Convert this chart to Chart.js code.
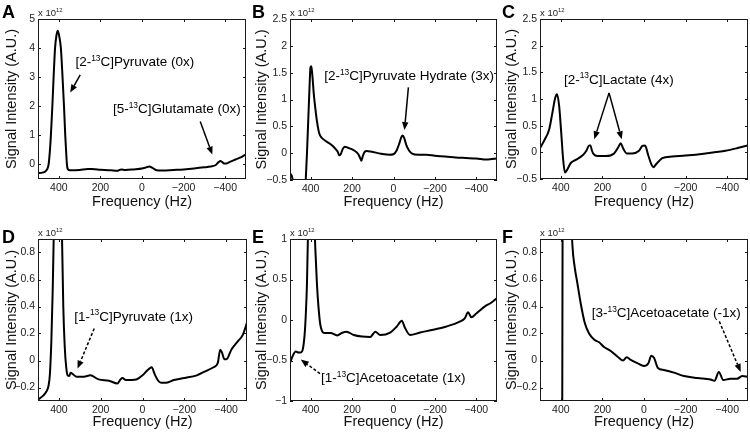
<!DOCTYPE html>
<html>
<head>
<meta charset="utf-8">
<script src="https://cdn.jsdelivr.net/npm/chart.js@4.4.1/dist/chart.umd.min.js"></script>
<style>
  body { margin: 0; background: #fff; width: 750px; height: 434px; position: relative; overflow: hidden; }
  .panel { position: absolute; width: 250px; height: 217px; }
</style>
</head>
<body>
<div class="panel" style="left:0;top:0"><canvas id="cA" width="250" height="217"></canvas></div>
<div class="panel" style="left:250px;top:0"><canvas id="cB" width="250" height="217"></canvas></div>
<div class="panel" style="left:500px;top:0"><canvas id="cC" width="250" height="217"></canvas></div>
<div class="panel" style="left:0;top:217px"><canvas id="cD" width="250" height="217"></canvas></div>
<div class="panel" style="left:250px;top:217px"><canvas id="cE" width="250" height="217"></canvas></div>
<div class="panel" style="left:500px;top:217px"><canvas id="cF" width="250" height="217"></canvas></div>
<script>
// ── Data (signal in units of 1e12, frequency in Hz) ─────────────────
const freqTicks = [400, 200, 0, -200, -400];

const freqA = [500, 480, 465, 455, 449, 443, 438, 431, 425, 418, 411, 405, 399, 390, 382, 375, 369, 364, 361, 356, 345, 300, 260, 240, 200, 150, 120, 100, 80, 40, 0, -20, -35, -50, -70, -100, -150, -200, -250, -300, -330, -355, -368, -377, -386, -395, -405, -420, -450, -480, -500];
const sigA  = [-0.30, -0.28, -0.24, -0.15, 0.0, 0.45, 1.0, 2.0, 3.0, 4.0, 4.45, 4.6, 4.45, 4.0, 3.0, 2.0, 1.0, 0.35, 0.0, -0.17, -0.2, -0.19, -0.16, -0.16, -0.18, -0.2, -0.22, -0.17, -0.19, -0.17, -0.14, -0.1, -0.07, -0.12, -0.2, -0.21, -0.19, -0.17, -0.14, -0.1, -0.07, -0.02, 0.08, 0.12, 0.08, 0.03, 0.03, 0.08, 0.17, 0.26, 0.35];

const freqB = [500, 492, 484, 470, 440, 428, 424, 418, 412, 406, 401, 397, 392, 385, 378, 370, 362, 355, 345, 325, 305, 285, 270, 262, 255, 245, 235, 220, 190, 170, 160, 155, 148, 140, 130, 110, 60, 20, 0, -15, -28, -38, -44, -52, -62, -75, -90, -120, -160, -200, -250, -300, -350, -400, -450, -475, -500];
const sigB  = [-0.38, -0.42, -0.55, -0.9, -1.2, -0.8, -0.5, 0.0, 0.6, 1.2, 1.6, 1.62, 1.45, 1.1, 0.85, 0.6, 0.42, 0.33, 0.28, 0.22, 0.17, 0.1, 0.03, -0.04, -0.02, 0.08, 0.12, 0.1, 0.05, -0.02, -0.1, -0.14, -0.05, 0.02, 0.04, 0.03, -0.01, -0.03, -0.02, 0.05, 0.18, 0.3, 0.33, 0.28, 0.15, 0.05, -0.01, -0.03, -0.03, -0.05, -0.06, -0.08, -0.09, -0.1, -0.12, -0.11, -0.1];

const freqC = [500, 480, 456, 440, 427, 418, 408, 398, 389, 380, 370, 352, 328, 296, 277, 264, 258, 250, 243, 224, 184, 144, 123, 112, 100, 83, 56, 24, 8, -5, -20, -35, -45, -59, -88, -136, -200, -296, -392, -450, -500];
const sigC  = [0.08, 0.22, 0.43, 0.75, 1.02, 1.09, 0.87, 0.37, -0.12, -0.38, -0.33, -0.2, -0.14, -0.06, 0.03, 0.13, 0.13, 0.03, -0.03, -0.07, -0.07, -0.02, 0.1, 0.17, 0.07, -0.02, -0.02, 0.03, 0.12, 0.13, -0.05, -0.22, -0.28, -0.22, -0.11, -0.08, -0.06, -0.02, 0.03, 0.08, 0.13];

const freqD = [500, 475, 460, 450, 443, 436, 430, 425, 418, 405, 392, 385, 379, 372, 365, 358, 350, 344, 334, 315, 280, 250, 210, 160, 120, 105, 96, 80, 30, 0, -25, -44, -58, -75, -90, -110, -150, -200, -260, -300, -340, -360, -372, -380, -392, -402, -425, -455, -480, -500];
const sigD  = [-0.29, -0.26, -0.23, -0.19, -0.1, 0.15, 0.5, 0.9, 2.0, 3.5, 2.0, 0.9, 0.4, 0.1, -0.05, -0.11, -0.115, -0.09, -0.1, -0.12, -0.12, -0.11, -0.14, -0.15, -0.17, -0.14, -0.13, -0.145, -0.14, -0.11, -0.07, -0.05, -0.1, -0.15, -0.165, -0.165, -0.145, -0.13, -0.11, -0.08, -0.05, -0.02, 0.08, 0.06, 0.01, 0.01, 0.08, 0.14, 0.19, 0.28];

const freqE = [500, 488, 472, 460, 448, 438, 430, 424, 418, 412, 406, 400, 394, 386, 378, 370, 362, 354, 346, 336, 304, 272, 250, 227, 192, 152, 112, 98, 88, 64, 16, -16, -40, -56, -80, -128, -192, -256, -320, -344, -360, -376, -400, -440, -470, -500];
const sigE  = [-0.53, -0.45, -0.39, -0.4, -0.4, -0.36, -0.2, 0.05, 0.45, 1.2, 2.2, 2.6, 2.3, 1.5, 0.9, 0.45, 0.15, -0.05, -0.13, -0.16, -0.16, -0.19, -0.16, -0.145, -0.185, -0.205, -0.21, -0.17, -0.145, -0.185, -0.155, -0.08, -0.01, -0.1, -0.185, -0.155, -0.12, -0.08, -0.02, 0.02, 0.095, 0.035, 0.08, 0.165, 0.21, 0.27];

const freqF = [500, 420, 400, 394, 392, 389, 380, 368, 358, 350, 344, 333, 320, 304, 285, 264, 240, 216, 192, 160, 128, 101, 83, 64, 32, 0, -21, -35, -48, -67, -96, -144, -192, -256, -320, -339, -360, -381, -416, -448, -472, -500];
const sigF  = [-4, -3.5, -2.5, -1.0, 0.5, 2.5, 4.5, 3.5, 2.0, 1.1, 0.85, 0.69, 0.57, 0.42, 0.28, 0.2, 0.155, 0.135, 0.1, 0.07, 0.03, 0.0, 0.025, 0.005, -0.02, -0.04, -0.02, 0.035, 0.02, -0.055, -0.07, -0.09, -0.115, -0.13, -0.14, -0.15, -0.085, -0.145, -0.135, -0.135, -0.115, -0.12];

const yTicksA = [0, 1, 2, 3, 4, 5];
const yTicksBC = [-0.5, 0, 0.5, 1, 1.5, 2, 2.5];
const yTicksDF = [-0.2, 0, 0.2, 0.4, 0.6, 0.8];
const yTicksE = [-1, -0.5, 0, 0.5, 1];

const noteA1 = ['[2-', '13', 'C]Pyruvate (0x)'];
const noteA2 = ['[5-', '13', 'C]Glutamate (0x)'];
const noteB  = ['[2-', '13', 'C]Pyruvate Hydrate (3x)'];
const noteC  = ['[2-', '13', 'C]Lactate (4x)'];
const noteD  = ['[1-', '13', 'C]Pyruvate (1x)'];
const noteE  = ['[1-', '13', 'C]Acetoacetate (1x)'];
const noteF  = ['[3-', '13', 'C]Acetoacetate (-1x)'];
const scaleNote = ['x 10', '12'];

// ── Helpers ─────────────────────────────────────────────────────────
const FONT = '"Liberation Sans", Arial, Helvetica, sans-serif';
const fmt = v => (v < 0 ? '\u2212' + Math.abs(v) : String(v));

// draws [text, superscript, text] left-anchored, vertically centred on y
function drawRich(ctx, parts, x, y, size) {
    ctx.textBaseline = 'middle';
    ctx.textAlign = 'left';
    let cx = x;
    parts.forEach((p, i) => {
        const sup = i % 2 === 1;
        ctx.font = (sup ? size * 0.62 : size) + 'px ' + FONT;
        ctx.fillText(p, cx, sup ? y - size * 0.32 : y);
        cx += ctx.measureText(p).width;
    });
}

function drawArrow(ctx, x1, y1, x2, y2, dashed) {
    const ang = Math.atan2(y2 - y1, x2 - x1);
    const hl = 8, hw = 3.2;
    const bx = x2 - hl * Math.cos(ang), by = y2 - hl * Math.sin(ang);
    ctx.lineWidth = 1.5;
    ctx.setLineDash(dashed ? [3, 2] : []);
    ctx.beginPath();
    ctx.moveTo(x1, y1);
    ctx.lineTo(bx, by);
    ctx.stroke();
    ctx.setLineDash([]);
    ctx.beginPath();
    ctx.moveTo(x2, y2);
    ctx.lineTo(bx + hw * Math.sin(ang), by - hw * Math.cos(ang));
    ctx.lineTo(bx - hw * Math.sin(ang), by + hw * Math.cos(ang));
    ctx.closePath();
    ctx.fill();
}

const panelDecor = {
    id: 'panelDecor',
    afterDraw(chart, args, o) {
        const { ctx, chartArea: a, scales: { x, y } } = chart;
        ctx.save();
        // box + inward ticks on all four sides
        ctx.strokeStyle = '#1a1a1a';
        ctx.lineWidth = 1;
        ctx.strokeRect(a.left + 0.5, a.top + 0.5, a.width - 1, a.height - 1);
        ctx.beginPath();
        x.ticks.forEach(t => {
            const px = Math.round(x.getPixelForValue(t.value)) + 0.5;
            ctx.moveTo(px, a.bottom); ctx.lineTo(px, a.bottom - 3);
            ctx.moveTo(px, a.top); ctx.lineTo(px, a.top + 3);
        });
        y.ticks.forEach(t => {
            const py = Math.round(y.getPixelForValue(t.value)) + 0.5;
            ctx.moveTo(a.left, py); ctx.lineTo(a.left + 3, py);
            ctx.moveTo(a.right, py); ctx.lineTo(a.right - 3, py);
        });
        ctx.stroke();

        ctx.fillStyle = '#000';
        ctx.strokeStyle = '#000';
        // panel letter
        ctx.font = 'bold 18px ' + FONT;
        ctx.textBaseline = 'alphabetic';
        ctx.fillText(o.letter, 2, a.top + o.letterDy);
        // exponent label
        ctx.fillStyle = '#222';
        drawRich(ctx, scaleNote, a.left, a.top - 6, 9.5);

        // annotations
        ctx.fillStyle = '#000';
        o.notes.forEach(n => {
            drawRich(ctx, n.text, x.getPixelForValue(n.x), y.getPixelForValue(n.y), 13.5);
            n.arrows.forEach(ar => {
                drawArrow(ctx, x.getPixelForValue(ar[0]), y.getPixelForValue(ar[1]),
                    x.getPixelForValue(ar[2]), y.getPixelForValue(ar[3]), n.dashed);
            });
        });
        ctx.restore();
    }
};

function makePanel(id, p) {
    const pts = p.freq.map((f, i) => ({ x: f, y: p.sig[i] }));
    return new Chart(document.getElementById(id), {
        type: 'line',
        data: {
            datasets: [{
                data: pts,
                borderColor: '#000',
                borderWidth: 2,
                pointRadius: 0,
                fill: false,
                cubicInterpolationMode: 'monotone',
            }]
        },
        options: {
            responsive: false,
            animation: false,
            events: [],
            layout: { padding: { top: p.area.top, right: 250 - p.area.right, left: 0, bottom: 0 } },
            plugins: {
                legend: { display: false },
                tooltip: { enabled: false },
                panelDecor: { letter: p.letter, letterDy: p.letterDy, notes: p.notes },
            },
            scales: {
                x: {
                    type: 'linear',
                    min: -500, max: 500,
                    reverse: true,
                    afterBuildTicks: s => { s.ticks = freqTicks.map(v => ({ value: v })); },
                    afterFit: s => { s.height = 217 - p.area.bottom; },
                    grid: { display: false, drawTicks: false },
                    border: { display: false },
                    ticks: { color: '#222', font: { family: FONT, size: 10.5 }, padding: 3, maxRotation: 0, callback: fmt },
                    title: { display: true, text: 'Frequency (Hz)', color: '#111', font: { family: FONT, size: 14.5 }, padding: { top: 0, bottom: p.xTitlePad } },
                },
                y: {
                    type: 'linear',
                    min: p.yMin, max: p.yMax,
                    afterBuildTicks: s => { s.ticks = p.yTicks.map(v => ({ value: v })); },
                    afterFit: s => { s.width = p.area.left; },
                    grid: { display: false, drawTicks: false },
                    border: { display: false },
                    ticks: { color: '#222', font: { family: FONT, size: 10.5 }, padding: 3, callback: fmt },
                    title: { display: true, text: 'Signal Intensity (A.U.)', color: '#111', font: { family: FONT, size: 14.5 }, padding: { top: 3, bottom: 0 } },
                }
            }
        },
        plugins: [panelDecor]
    });
}

makePanel('cA', {
    letter: 'A', letterDy: -1, freq: freqA, sig: sigA, yMin: -0.5, yMax: 5, yTicks: yTicksA, xTitlePad: 6,
    area: { left: 38, right: 246, top: 19, bottom: 179 },
    notes: [
        { text: noteA1, x: 320, y: 3.5, arrows: [[297, 3.08, 345, 2.47]] },
        { text: noteA2, x: 140, y: 1.88, arrows: [[-280, 1.48, -338, 0.34]] },
    ]
});
makePanel('cB', {
    letter: 'B', letterDy: -1, freq: freqB, sig: sigB, yMin: -0.5, yMax: 2.5, yTicks: yTicksBC, xTitlePad: 6,
    area: { left: 40, right: 247, top: 19, bottom: 180 },
    notes: [{ text: noteB, x: 335, y: 1.425, arrows: [[-72, 1.227, -53, 0.43]] }]
});
makePanel('cC', {
    letter: 'C', letterDy: -1, freq: freqC, sig: sigC, yMin: -0.5, yMax: 2.5, yTicks: yTicksBC, xTitlePad: 6,
    area: { left: 40, right: 248, top: 19, bottom: 179 },
    notes: [{ text: noteC, x: 385, y: 1.35, arrows: [[168, 1.115, 239, 0.245], [168, 1.115, 107, 0.245]] }]
});
makePanel('cD', {
    letter: 'D', letterDy: 4, freq: freqD, sig: sigD, yMin: -0.3, yMax: 0.9, yTicks: yTicksDF, xTitlePad: 3,
    area: { left: 38, right: 247, top: 22, bottom: 184 },
    notes: [{ text: noteD, x: 327, y: 0.323, dashed: true, arrows: [[231, 0.237, 311, -0.06]] }]
});
makePanel('cE', {
    letter: 'E', letterDy: 4, freq: freqE, sig: sigE, yMin: -1, yMax: 1, yTicks: yTicksE, xTitlePad: 3,
    area: { left: 40, right: 247, top: 22, bottom: 184 },
    notes: [{ text: noteE, x: 350, y: -0.725, dashed: true, arrows: [[355, -0.662, 448, -0.489]] }]
});
makePanel('cF', {
    letter: 'F', letterDy: 4, freq: freqF, sig: sigF, yMin: -0.3, yMax: 0.9, yTicks: yTicksDF, xTitlePad: 3,
    area: { left: 40, right: 248, top: 22, bottom: 184 },
    notes: [{ text: noteF, x: 251, y: 0.348, dashed: true, arrows: [[-362, 0.29, -465, -0.085]] }]
});
</script>
</body>
</html>
